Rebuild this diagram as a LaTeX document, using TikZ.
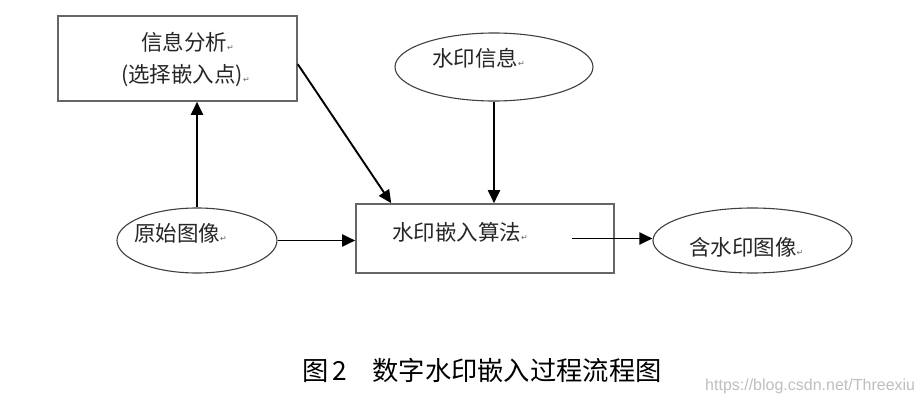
\documentclass[tikz,border=0pt]{standalone}
\usepackage{fontspec}
\newfontfamily\cjk{Noto Sans CJK SC}
\newfontfamily\dv{DejaVu Sans}
\setmainfont{Liberation Sans}
\usetikzlibrary{arrows.meta,calc,shapes.geometric}
\newcommand{\retmark}{{\dv\fontsize{8}{8}\selectfont\textcolor{black!60}{↵}}}
\begin{document}
\begin{tikzpicture}[x=1pt,y=-1pt,
  boxst/.style={draw=black!60,line width=1.6pt,rectangle,inner sep=0pt},
  ellst/.style={draw=black!75,line width=1.1pt,ellipse,inner sep=0pt},
  txt/.style={font=\cjk\fontsize{21.5}{24}\selectfont,text=black!85,inner sep=0pt,anchor=west},
  arr/.style={line width=1.9pt,-{Triangle[length=13pt,width=12pt]}},
  ]
\useasboundingbox (0,0) rectangle (923,406);
\fill[white] (0,0) rectangle (923,406);
% boxes
\node[boxst,minimum width=239pt,minimum height=85pt] (info) at (177.5,58.5) {};
\node[boxst,minimum width=258pt,minimum height=69pt] (algo) at (485,238.5) {};
% ellipses
\node[ellst,minimum width=198pt,minimum height=68pt] (wm) at (494,67) {};
\node[ellst,minimum width=160pt,minimum height=65pt] (orig) at (197,240.5) {};
\node[ellst,minimum width=199pt,minimum height=65pt] (out) at (752.5,240.5) {};
% texts
\node[txt] (t1) at (141,42) {信息分析\retmark};
\node[txt] (t2) at (121,76) {(选择嵌入点)\retmark};
\node[txt] (t3) at (432,58) {水印信息\retmark};
\node[txt] (t4) at (134,233) {原始图像\retmark};
\node[txt] (t5) at (392,232) {水印嵌入算法\retmark};
\node[txt] (t6) at (689,247) {含水印图像\retmark};
% connectors
\coordinate (c1) at ($(info.north east)+(0,49)$);
\coordinate (c2) at ($(algo.north west)+(36,0)$);
\coordinate (c3) at ($(algo.west)+(217,0)$);
\draw[arr] (orig.north) -- (orig.north |- info.south);
\draw[arr] (orig.east) -- (orig.east -| algo.west);
\draw[arr] (c1) -- (c2);
\draw[arr] (wm.south) -- (wm.south |- algo.north);
\draw[arr] (c3) -- (c3 -| out.west);
% caption
\node[font=\cjk\fontsize{26.3}{28}\selectfont,inner sep=0pt,anchor=west] (cap) at (302,370) {图\,2\hspace{25pt}数字水印嵌入过程流程图};
\node[font=\fontsize{16}{17}\selectfont,text=black!25,inner sep=0pt,anchor=west] (url) at (705,386) {https://blog.csdn.net/Threexiu};
\end{tikzpicture}
\end{document}
